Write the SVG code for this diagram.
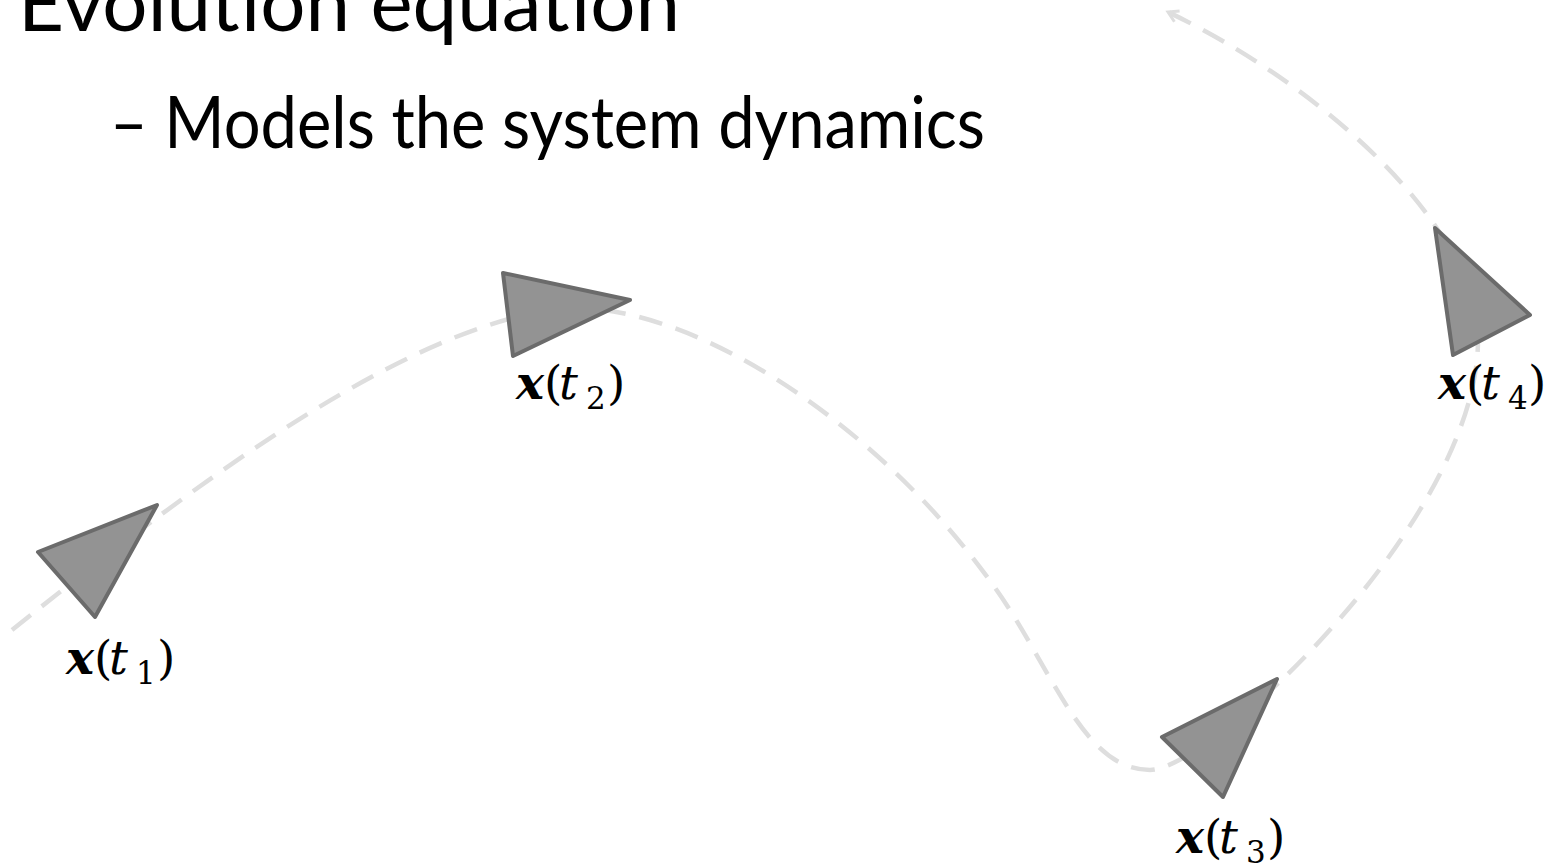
<svg xmlns="http://www.w3.org/2000/svg" width="1566" height="868" viewBox="0 0 1566 868">
<style>
.head{font-family:Lato,"Open Sans","Liberation Sans",sans-serif;fill:#000}
.tri{fill:#939393;stroke:#6b6b6b;stroke-width:4;stroke-linejoin:round}
.traj{fill:none;stroke:#dedede;stroke-width:4.5;stroke-dasharray:24 14}
.lbl{font-family:"DejaVu Serif","Liberation Serif",serif;font-size:47px;fill:#000}
.bx{font-weight:bold;font-style:italic}
.it{font-style:italic}
.sub{font-size:31px}
</style>
<defs>
<marker id="arr" markerUnits="userSpaceOnUse" markerWidth="20" markerHeight="20" refX="12" refY="8" orient="auto" viewBox="0 0 20 16">
<path d="M2,2 L12,8 L2,14" fill="none" stroke="#dedede" stroke-width="3"/>
</marker>
</defs>
<rect width="1566" height="868" fill="#fff"/>
<text class="head" x="18" y="31" font-size="80" textLength="662" lengthAdjust="spacingAndGlyphs">Evolution equation</text>
<text class="head" x="110" y="148" font-size="72" textLength="875" lengthAdjust="spacingAndGlyphs">– Models the system dynamics</text>
<g id="connectors">
<path class="traj" marker-end="url(#arr)" d="M12,630 C200,480 400,330 560,308 C700,300 900,440 1010,610 C1060,690 1090,770 1150,770 C1210,770 1478,520 1478,340 C1478,230 1330,90 1168,12"/>
</g>
<g id="node-t1">
<polygon class="tri" points="38,552 157,505 95,617"/>
<text class="lbl"><tspan class="bx" x="66" y="674">x</tspan><tspan x="94" y="674">(</tspan><tspan class="it" x="109" y="674">t</tspan><tspan class="sub" x="136" y="684">1</tspan><tspan x="157" y="674">)</tspan></text>
</g>
<g id="node-t2">
<polygon class="tri" points="503,273 630,300 513,356"/>
<text class="lbl"><tspan class="bx" x="516" y="399">x</tspan><tspan x="544" y="399">(</tspan><tspan class="it" x="559" y="399">t</tspan><tspan class="sub" x="586" y="409">2</tspan><tspan x="607" y="399">)</tspan></text>
</g>
<g id="node-t3">
<polygon class="tri" points="1162,737 1277,679 1223,797"/>
<text class="lbl"><tspan class="bx" x="1176" y="853">x</tspan><tspan x="1204" y="853">(</tspan><tspan class="it" x="1219" y="853">t</tspan><tspan class="sub" x="1246" y="863">3</tspan><tspan x="1267" y="853">)</tspan></text>
</g>
<g id="node-t4">
<polygon class="tri" points="1435,228 1530,315 1453,355"/>
<text class="lbl"><tspan class="bx" x="1438" y="399">x</tspan><tspan x="1466" y="399">(</tspan><tspan class="it" x="1481" y="399">t</tspan><tspan class="sub" x="1508" y="409">4</tspan><tspan x="1528" y="399">)</tspan></text>
</g>
</svg>
